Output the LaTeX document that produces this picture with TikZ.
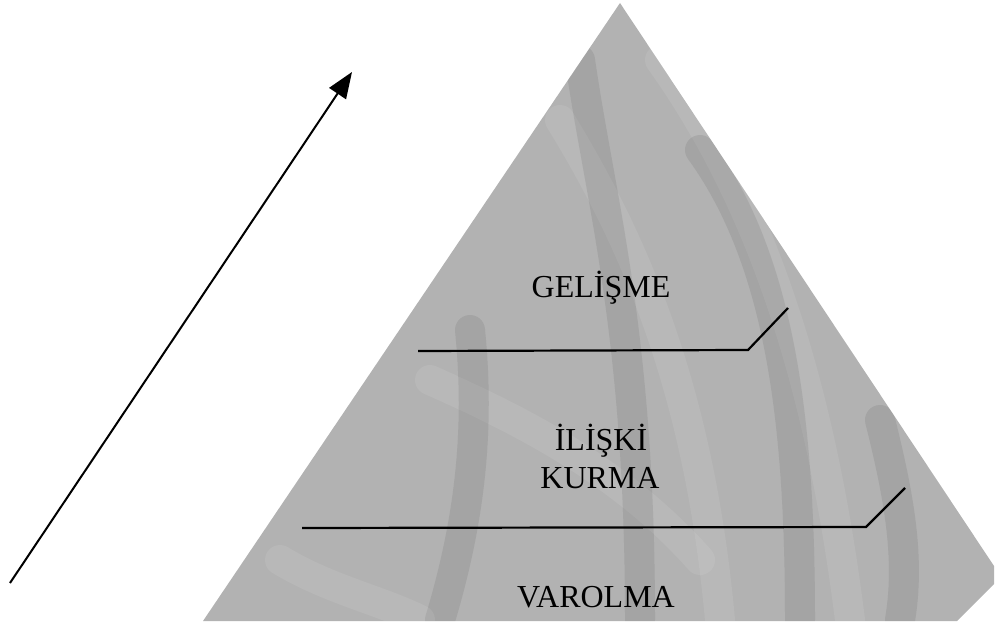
\documentclass[tikz,border=0pt]{standalone}
\usepackage{fontspec}
\setmainfont{Liberation Serif}
\usetikzlibrary{arrows.meta}
\begin{document}
\begin{tikzpicture}[x=1pt,y=-1pt,
  sep/.style={line width=2.2pt, black},
  lbl/.style={font=\fontsize{32}{38}\selectfont, inner sep=0pt, align=center, text=black},
  streak/.style={line width=30pt, line cap=round, opacity=0.08}]
\useasboundingbox (0,0) rectangle (995,628);
% pyramid
\coordinate (apex) at (620,3);
\coordinate (r1) at (994,566);
\coordinate (r2) at (994,584);
\coordinate (r3) at (957,621);
\coordinate (bl) at (203,621);
\fill[black!30] (apex) -- (r1) -- (r2) -- (r3) -- (bl) -- cycle;
\begin{scope}
  \clip (apex) -- (r1) -- (r2) -- (r3) -- (bl) -- cycle;
  \draw[streak, white] (560,120) .. controls (640,250) and (700,400) .. (720,620);
  \draw[streak, white] (660,60) .. controls (760,200) and (820,380) .. (850,620);
  \draw[streak, white] (430,380) .. controls (520,420) and (620,470) .. (700,560);
  \draw[streak, black] (580,60) .. controls (600,200) and (640,330) .. (640,620);
  \draw[streak, black] (470,330) .. controls (480,430) and (470,520) .. (440,620);
  \draw[streak, black] (700,150) .. controls (780,260) and (800,420) .. (800,620);
  \draw[streak, white] (280,560) .. controls (330,590) and (380,600) .. (420,620);
  \draw[streak, black] (880,420) .. controls (900,500) and (910,560) .. (900,620);
\end{scope}
% separator lines
\coordinate (u1) at (418,351);
\coordinate (u2) at (748,350);
\coordinate (u3) at (788,308);
\coordinate (d1) at (302,528);
\coordinate (d2) at (866,527);
\coordinate (d3) at (905,488);
\draw[sep] (u1) -- (u2) -- (u3);
\draw[sep] (d1) -- (d2) -- (d3);
% labels
\node[lbl, anchor=base] (gel) at (601,297) {GELİŞME};
\node[lbl, anchor=base] (ili) at (601,450) {İLİŞKİ};
\node[lbl, anchor=base] (kur) at (600,488) {KURMA};
\node[lbl, anchor=base] (var) at (596,607) {VAROLMA};
% arrow
\coordinate (a0) at (10,583);
\coordinate (a1) at (352,72);
\draw[line width=2pt, -{Triangle[length=26pt,width=20pt]}] (a0) -- (a1);
\end{tikzpicture}
\end{document}
